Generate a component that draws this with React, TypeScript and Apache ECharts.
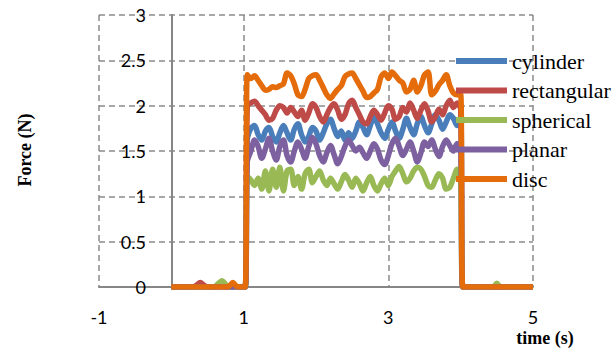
import React, { useEffect, useRef } from "react";
import * as echarts from "echarts";

const preTimes = [0, 0.3, 0.35, 0.4, 0.45, 0.5, 0.6, 0.65, 0.7, 0.75, 0.8, 0.85, 0.9, 0.95, 1.02];
const plateauTimes = [
  1.05, 1.1, 1.15, 1.2, 1.25, 1.3, 1.35, 1.4, 1.45, 1.5,
  1.55, 1.6, 1.65, 1.7, 1.75, 1.8, 1.85, 1.9, 1.95, 2.0,
  2.05, 2.1, 2.15, 2.2, 2.25, 2.3, 2.35, 2.4, 2.45, 2.5,
  2.55, 2.6, 2.65, 2.7, 2.75, 2.8, 2.85, 2.9, 2.95, 3.0,
  3.05, 3.1, 3.15, 3.2, 3.25, 3.3, 3.35, 3.4, 3.45, 3.5,
  3.55, 3.6, 3.65, 3.7, 3.75, 3.8, 3.85, 3.9, 3.95, 4.0,
];
const postTimes = [4.03, 4.4, 4.45, 4.5, 4.55, 4.6, 5.0];
const times = [...preTimes, ...plateauTimes, ...postTimes];

const cylinderPre = [0, 0, 0, 0, 0, 0, 0, 0.03, 0.02, 0, 0, 0, 0, 0, 0];
const cylinderPlateau = [
  1.62, 1.75, 1.78, 1.68, 1.62, 1.72, 1.76, 1.66, 1.6, 1.7,
  1.78, 1.7, 1.62, 1.74, 1.8, 1.68, 1.6, 1.66, 1.76, 1.72,
  1.62, 1.7, 1.8, 1.85, 1.75, 1.66, 1.72, 1.62, 1.7, 1.64,
  1.72, 1.82, 1.76, 1.68, 1.78, 1.88, 1.8, 1.7, 1.64, 1.74,
  1.82, 1.72, 1.64, 1.74, 1.86, 1.76, 1.68, 1.8, 1.88, 1.78,
  1.7, 1.8, 1.9, 1.84, 1.74, 1.82, 1.9, 1.86, 1.78, 1.88,
];
const cylinderPost = [0, 0, 0, 0, 0, 0, 0];

const rectangularPre = [0, 0, 0.02, 0.05, 0.02, 0, 0, 0, 0, 0, 0, 0, 0, 0, 0];
const rectangularPlateau = [
  2.0, 2.03, 2.05, 2.0, 1.95, 1.9, 1.84, 1.86, 1.95, 2.0,
  1.98, 1.92, 1.98, 1.93, 1.88, 1.95, 1.84, 1.92, 2.02, 1.98,
  1.88, 1.82, 1.9, 1.98, 2.02, 1.95, 1.85, 1.9, 2.02, 2.06,
  1.98, 1.9, 1.82, 1.8, 1.88, 1.95, 1.9, 1.84, 1.92, 2.0,
  1.96, 1.85, 1.88, 1.98, 1.93, 2.03, 1.95, 1.86, 1.95, 2.02,
  1.94, 1.82, 1.88, 1.96, 1.9, 2.0, 2.06, 1.98, 2.03, 1.96,
];
const rectangularPost = [0, 0, 0, 0, 0, 0, 0];

const sphericalPre = [0, 0, 0, 0, 0, 0, 0, 0.04, 0.07, 0.03, 0, 0, 0, 0, 0];
const sphericalPlateau = [
  1.22, 1.18, 1.12, 1.2, 1.08, 1.28, 1.06, 1.3, 1.1, 1.32,
  1.06, 1.28, 1.3, 1.12, 1.22, 1.08, 1.25, 1.3, 1.15, 1.22,
  1.28, 1.18, 1.12, 1.2, 1.14, 1.08, 1.16, 1.24, 1.18, 1.1,
  1.2, 1.14, 1.06, 1.15, 1.22, 1.12, 1.06, 1.14, 1.2, 1.12,
  1.22, 1.28, 1.33, 1.25, 1.16, 1.2, 1.28, 1.32, 1.3, 1.22,
  1.12, 1.1, 1.18, 1.25, 1.2, 1.08, 1.1, 1.2, 1.3, 1.15,
];
const sphericalPost = [0, 0, 0, 0.04, 0, 0, 0];

const planarPre = [0, 0, 0, 0, 0, 0, 0, 0, 0, 0, 0, 0, 0, 0, 0];
const planarPlateau = [
  1.38, 1.5, 1.62, 1.55, 1.42, 1.52, 1.64, 1.5, 1.4, 1.55,
  1.62, 1.45, 1.38, 1.5, 1.6, 1.52, 1.42, 1.55, 1.65, 1.58,
  1.45, 1.38, 1.48, 1.56, 1.46, 1.36, 1.44, 1.55, 1.62, 1.56,
  1.5, 1.54, 1.48, 1.42, 1.5, 1.58, 1.52, 1.4, 1.35, 1.45,
  1.58, 1.64, 1.55, 1.45, 1.52, 1.6, 1.5, 1.38, 1.48, 1.6,
  1.55, 1.62, 1.52, 1.44, 1.55, 1.62, 1.56, 1.5, 1.58, 1.55,
];
const planarPost = [0, 0, 0, 0, 0, 0, 0];

const discPre = [0, 0, 0, 0, 0, 0, 0, 0, 0, 0, 0.01, 0.05, 0.01, 0, 0];
const discPlateau = [
  2.34, 2.3, 2.33, 2.28, 2.22, 2.17, 2.18, 2.21, 2.2, 2.22,
  2.24, 2.36, 2.33, 2.24, 2.12, 2.1, 2.18, 2.3, 2.33, 2.34,
  2.28, 2.2, 2.12, 2.08, 2.13, 2.18, 2.22, 2.32, 2.35, 2.36,
  2.3, 2.23, 2.16, 2.09, 2.1, 2.14, 2.18, 2.32, 2.36, 2.3,
  2.37, 2.33, 2.28, 2.25, 2.15, 2.18, 2.28, 2.15, 2.22, 2.34,
  2.37, 2.12, 2.16, 2.23, 2.28, 2.34, 2.22, 2.14, 2.12, 2.13,
];
const discPost = [0, 0, 0, 0, 0, 0, 0];

const seriesNames = ["cylinder", "rectangular", "spherical", "planar", "disc"];
const seriesColors = ["#4a7ebb", "#be4b48", "#98b954", "#7d60a0", "#e46c0a"];
const seriesValues = [
  [...cylinderPre, ...cylinderPlateau, ...cylinderPost],
  [...rectangularPre, ...rectangularPlateau, ...rectangularPost],
  [...sphericalPre, ...sphericalPlateau, ...sphericalPost],
  [...planarPre, ...planarPlateau, ...planarPost],
  [...discPre, ...discPlateau, ...discPost],
];

const xTicks = { min: -1, max: 5, interval: 2 };
const yTicks = { min: 0, max: 3, interval: 0.5 };

const serif = "Liberation Serif";

export default function App() {
  const ref = useRef<HTMLDivElement>(null);
  useEffect(() => {
    document.body.style.margin = "0";
    const chart = echarts.init(ref.current!, undefined, { renderer: "svg" });
    const gridLine = { show: true, lineStyle: { color: "#8a8a8a", width: 1.5, type: [6, 4] as any } };
    chart.setOption({
      animation: false,
      textStyle: { fontFamily: serif },
      grid: { left: 99, right: 80, top: 15, bottom: 67, containLabel: false },
      xAxis: {
        type: "value",
        ...xTicks,
        axisLine: { lineStyle: { color: "#868686", width: 2 } },
        axisTick: { show: false },
        axisLabel: { color: "#000", fontFamily: "Lato", fontSize: 18, margin: 21 },
        splitLine: gridLine,
      },
      yAxis: {
        type: "value",
        ...yTicks,
        axisLine: { show: true, onZero: true, lineStyle: { color: "#868686", width: 2 } },
        axisTick: { show: false },
        axisLabel: { color: "#000", fontFamily: "Lato", fontSize: 18, margin: -47 },
        splitLine: gridLine,
      },
      legend: {
        orient: "vertical",
        left: 456,
        top: 50,
        padding: 0,
        itemWidth: 51,
        itemHeight: 6,
        itemGap: 7.5,
        icon: "rect",
        data: seriesNames,
        textStyle: { color: "#000", fontFamily: serif, fontSize: 22 },
      },
      graphic: [
        {
          type: "text",
          x: 25,
          y: 150,
          rotation: Math.PI / 2,
          style: {
            text: "Force (N)",
            fontFamily: serif,
            fontWeight: "bold",
            fontSize: 18,
            fill: "#000",
            textAlign: "center",
            textVerticalAlign: "middle",
          },
        },
        {
          type: "text",
          x: 545,
          y: 338,
          style: {
            text: "time (s)",
            fontFamily: serif,
            fontWeight: "bold",
            fontSize: 18,
            fill: "#000",
            textAlign: "center",
            textVerticalAlign: "middle",
          },
        },
      ],
      series: seriesNames.map((name, k) => ({
        name,
        type: "line",
        symbol: "none",
        smooth: 0.3,
        color: seriesColors[k],
        lineStyle: { width: 5.5, color: seriesColors[k] },
        data: times.map((t, i) => [t, seriesValues[k][i]]),
      })),
    });
    return () => chart.dispose();
  }, []);
  return <div ref={ref} style={{ width: 613, height: 354 }} />;
}
